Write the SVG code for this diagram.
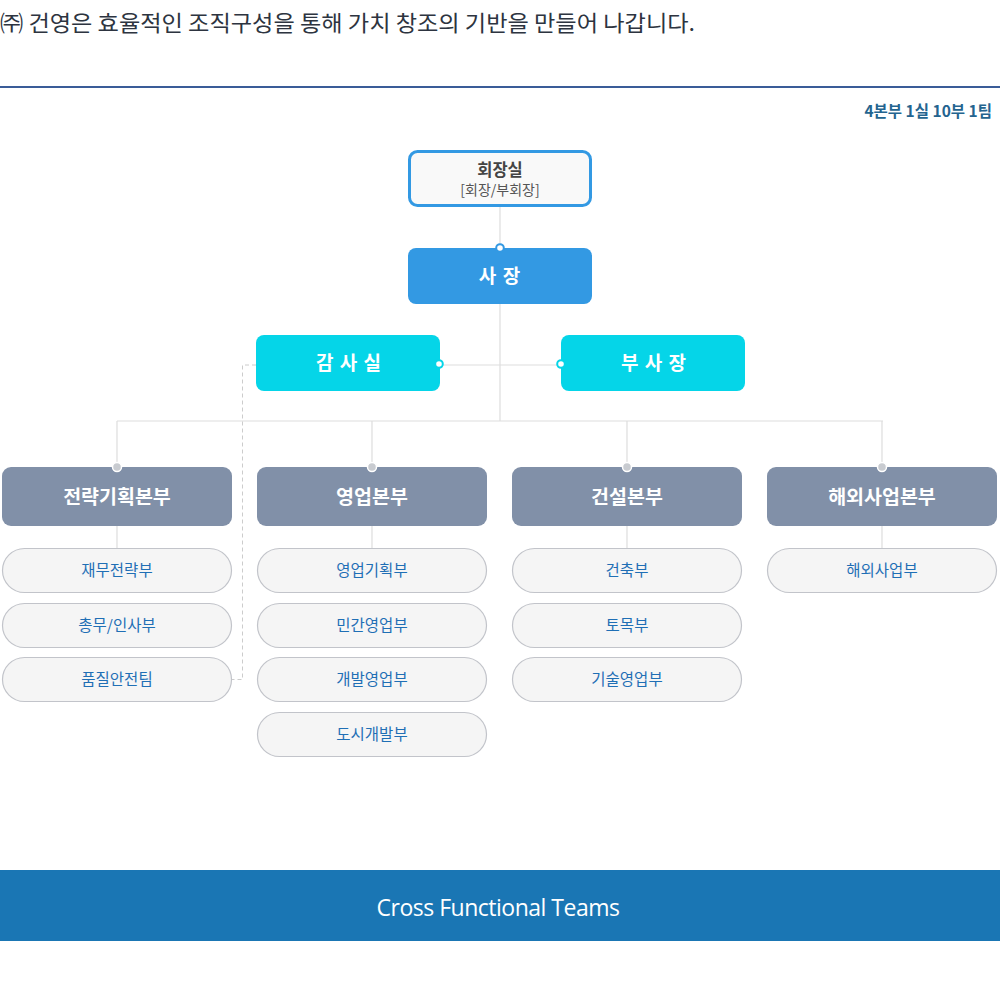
<svg xmlns="http://www.w3.org/2000/svg" width="1000" height="1000" viewBox="0 0 1000 1000">
<style>
.kr{font-family:"Noto Sans CJK KR","Noto Sans",sans-serif}
.line{stroke:#dddddd;stroke-width:1.2;fill:none}
.dash{stroke:#cccccc;stroke-width:1;stroke-dasharray:4 3;fill:none}
.dept rect{fill:#8190a8}
.dept text{fill:#ffffff;font-size:19.5px;font-weight:bold;text-anchor:middle}
.sub rect{fill:#f5f5f5;stroke:#c2c4ca;stroke-width:1.2}
.sub text{fill:#1f6fb5;font-size:15.5px;text-anchor:middle}
.gdot{fill:#c8cbd0;stroke:#ffffff;stroke-width:1.5}
.cyan rect{fill:#05d5e8}
.cyan text{fill:#ffffff;font-size:19px;font-weight:bold;text-anchor:middle;letter-spacing:1px}
</style>
<rect width="1000" height="1000" fill="#ffffff"/>
<text x="0" y="31" class="kr" font-size="22" fill="#2d3440" textLength="695" lengthAdjust="spacingAndGlyphs">㈜ 건영은 효율적인 조직구성을 통해 가치 창조의 기반을 만들어 나갑니다.</text>
<rect x="0" y="86" width="1000" height="2" fill="#3a5c98"/>
<text x="992" y="117" class="kr" font-size="15.5" font-weight="bold" fill="#24648f" text-anchor="end">4본부 1실 10부 1팀</text>

<g id="connectors">
<line class="line" x1="500" y1="206" x2="500" y2="248"/>
<line class="line" x1="500" y1="304" x2="500" y2="421"/>
<line class="line" x1="439" y1="365" x2="561" y2="365"/>
<line class="line" x1="117" y1="421" x2="883" y2="421"/>
<line class="line" x1="117" y1="421" x2="117" y2="467"/>
<line class="line" x1="372" y1="421" x2="372" y2="467"/>
<line class="line" x1="627" y1="421" x2="627" y2="467"/>
<line class="line" x1="882" y1="421" x2="882" y2="467"/>
<line class="line" x1="117" y1="526" x2="117" y2="548"/>
<line class="line" x1="372" y1="526" x2="372" y2="548"/>
<line class="line" x1="627" y1="526" x2="627" y2="548"/>
<line class="line" x1="882" y1="526" x2="882" y2="548"/>
<polyline class="dash" points="256,365 242.5,365 242.5,679.5 232,679.5"/>
</g>

<g id="chairman">
<rect x="409.5" y="151.5" width="181" height="54" rx="8" fill="#f9f9f9" stroke="#3399e3" stroke-width="3"/>
<text x="500" y="176" class="kr" font-size="16.5" font-weight="bold" fill="#444444" text-anchor="middle">회장실</text>
<text x="500" y="195" class="kr" font-size="14" fill="#555555" text-anchor="middle">[회장/부회장]</text>
</g>

<g id="president">
<rect x="408" y="248" width="184" height="56" rx="8" fill="#3399e3"/>
<text x="500" y="283" class="kr" font-size="19" font-weight="bold" fill="#ffffff" text-anchor="middle" letter-spacing="1">사 장</text>
<circle cx="500" cy="248" r="3.8" fill="#ffffff" stroke="#3399e3" stroke-width="2"/>
</g>

<g id="audit" class="cyan kr">
<rect x="256" y="335" width="184" height="56" rx="8"/>
<text x="349" y="370">감 사 실</text>
<circle cx="439" cy="364" r="3.8" fill="#ffffff" stroke="#05d5e8" stroke-width="2"/>
</g>

<g id="vp" class="cyan kr">
<rect x="561" y="335" width="184" height="56" rx="8"/>
<text x="654" y="370">부 사 장</text>
<circle cx="561" cy="364" r="3.8" fill="#ffffff" stroke="#05d5e8" stroke-width="2"/>
</g>

<g id="dept-strategy" class="dept kr">
<rect x="2" y="467" width="230" height="59" rx="9"/>
<text x="117" y="504">전략기획본부</text>
<circle class="gdot" cx="117" cy="467" r="4.5"/>
</g>
<g id="dept-sales" class="dept kr">
<rect x="257" y="467" width="230" height="59" rx="9"/>
<text x="372" y="504">영업본부</text>
<circle class="gdot" cx="372" cy="467" r="4.5"/>
</g>
<g id="dept-construction" class="dept kr">
<rect x="512" y="467" width="230" height="59" rx="9"/>
<text x="627" y="504">건설본부</text>
<circle class="gdot" cx="627" cy="467" r="4.5"/>
</g>
<g id="dept-overseas" class="dept kr">
<rect x="767" y="467" width="230" height="59" rx="9"/>
<text x="882" y="504">해외사업본부</text>
<circle class="gdot" cx="882" cy="467" r="4.5"/>
</g>

<g id="sub-finance" class="sub kr"><rect x="2.5" y="548.5" width="229" height="44" rx="22"/><text x="117" y="576">재무전략부</text></g>
<g id="sub-general" class="sub kr"><rect x="2.5" y="603.5" width="229" height="44" rx="22"/><text x="117" y="631">총무/인사부</text></g>
<g id="sub-quality" class="sub kr"><rect x="2.5" y="657.5" width="229" height="44" rx="22"/><text x="117" y="685">품질안전팀</text></g>

<g id="sub-salesplan" class="sub kr"><rect x="257.5" y="548.5" width="229" height="44" rx="22"/><text x="372" y="576">영업기획부</text></g>
<g id="sub-private" class="sub kr"><rect x="257.5" y="603.5" width="229" height="44" rx="22"/><text x="372" y="631">민간영업부</text></g>
<g id="sub-devsales" class="sub kr"><rect x="257.5" y="657.5" width="229" height="44" rx="22"/><text x="372" y="685">개발영업부</text></g>
<g id="sub-urban" class="sub kr"><rect x="257.5" y="712.5" width="229" height="44" rx="22"/><text x="372" y="740">도시개발부</text></g>

<g id="sub-arch" class="sub kr"><rect x="512.5" y="548.5" width="229" height="44" rx="22"/><text x="627" y="576">건축부</text></g>
<g id="sub-civil" class="sub kr"><rect x="512.5" y="603.5" width="229" height="44" rx="22"/><text x="627" y="631">토목부</text></g>
<g id="sub-tech" class="sub kr"><rect x="512.5" y="657.5" width="229" height="44" rx="22"/><text x="627" y="685">기술영업부</text></g>

<g id="sub-overseas" class="sub kr"><rect x="767.5" y="548.5" width="229" height="44" rx="22"/><text x="882" y="576">해외사업부</text></g>

<g id="cft">
<rect x="0" y="870" width="1000" height="71" fill="#1a76b4"/>
<text x="498" y="916" font-family="Open Sans, Noto Sans, sans-serif" font-size="23" fill="#ffffff" text-anchor="middle" letter-spacing="-0.5">Cross Functional Teams</text>
</g>
</svg>
